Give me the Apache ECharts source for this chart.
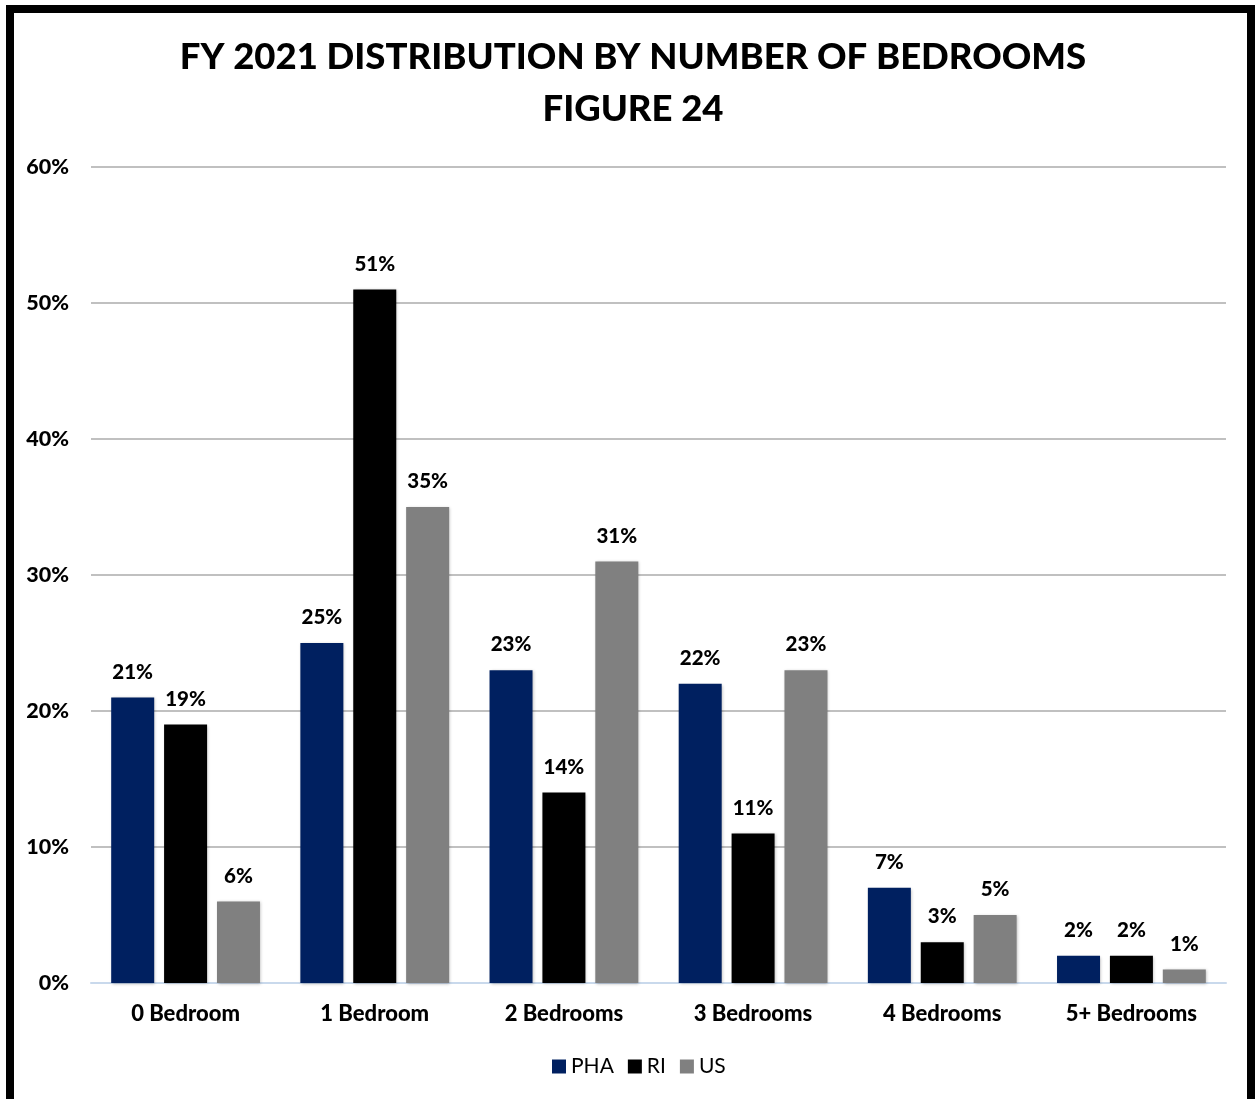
<!DOCTYPE html>
<html>
<head>
<meta charset="utf-8">
<script src="https://cdn.jsdelivr.net/npm/echarts@6/dist/echarts.min.js"></script>
<style>
  html, body { margin: 0; padding: 0; background: #fff; }
  #chart { width: 1255px; height: 1099px; }
</style>
</head>
<body>
<div id="chart"></div>
<script>
const categories = ['0 Bedroom', '1 Bedroom', '2 Bedrooms', '3 Bedrooms', '4 Bedrooms', '5+ Bedrooms'];
const phaValues = [21, 25, 23, 22, 7, 2];
const riValues  = [19, 51, 14, 11, 3, 2];
const usValues  = [6, 35, 31, 23, 5, 1];
const yTicks = { min: 0, max: 60, interval: 10 };

const FONT = 'Lato, "Open Sans", sans-serif';
const HEAVY = 900;

const barShadow = {
  shadowColor: 'rgba(0,0,0,0.25)',
  shadowBlur: 3,
  shadowOffsetX: 1,
  shadowOffsetY: 1
};

function makeSeries(name, data, color) {
  return {
    name: name,
    type: 'bar',
    data: data,
    barWidth: 43,
    barGap: '23%',
    itemStyle: Object.assign({ color: color }, barShadow),
    label: {
      show: true,
      position: 'top',
      distance: 15,
      formatter: '{c}%',
      fontFamily: FONT,
      fontWeight: HEAVY,
      fontSize: 20.5,
      color: '#000'
    }
  };
}

const chart = echarts.init(document.getElementById('chart'));
chart.setOption({
  backgroundColor: '#fff',
  animation: false,
  graphic: [{
    type: 'rect',
    shape: { x: 10, y: 9, width: 1241, height: 1200 },
    style: { fill: 'none', stroke: '#000', lineWidth: 8 },
    silent: true
  }],
  title: {
    text: 'FY 2021 DISTRIBUTION BY NUMBER OF BEDROOMS\nFIGURE 24',
    left: 628,
    textAlign: 'center',
    top: 26,
    textStyle: {
      fontFamily: FONT,
      fontWeight: HEAVY,
      fontSize: 36.5,
      lineHeight: 52,
      color: '#000'
    }
  },
  legend: {
    bottom: 17,
    left: 547,
    itemWidth: 14,
    itemHeight: 14,
    itemGap: 14,
    icon: 'rect',
    textStyle: { fontFamily: FONT, fontSize: 21, color: '#000' },
    data: ['PHA', 'RI', 'US']
  },
  grid: { left: 91, right: 29, top: 167, bottom: 116, containLabel: false },
  xAxis: {
    type: 'category',
    data: categories,
    axisLine: { lineStyle: { color: '#c9d9ec', width: 2 } },
    axisTick: { show: false },
    axisLabel: {
      margin: 20,
      fontFamily: FONT,
      fontWeight: HEAVY,
      fontSize: 22,
      color: '#000'
    }
  },
  yAxis: {
    type: 'value',
    min: yTicks.min,
    max: yTicks.max,
    interval: yTicks.interval,
    axisLine: { show: false },
    axisTick: { show: false },
    splitLine: { lineStyle: { color: '#c0c0c0', width: 2 } },
    axisLabel: {
      margin: 22,
      formatter: '{value}%',
      fontFamily: FONT,
      fontWeight: HEAVY,
      fontSize: 21.5,
      color: '#000'
    }
  },
  series: [
    makeSeries('PHA', phaValues, '#002060'),
    makeSeries('RI', riValues, '#000000'),
    makeSeries('US', usValues, '#808080')
  ]
});
</script>
</body>
</html>
